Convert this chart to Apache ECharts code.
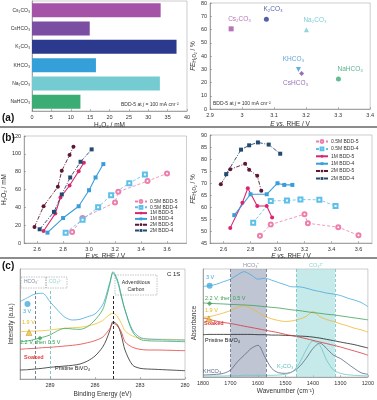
<!DOCTYPE html>
<html>
<head>
<meta charset="utf-8">
<script src="https://cdn.jsdelivr.net/npm/echarts@6/dist/echarts.min.js"></script>
<style>
  html, body { margin: 0; padding: 0; background: #fff; }
  #chart { width: 377px; height: 400px; }
</style>
</head>
<body>
<div id="chart"></div>
<script>
///////////////////////////////////////////////////
// Used data
///////////////////////////////////////////////////
var FONT = '"Liberation Sans", Arial, sans-serif';

// (a) electrolytes, BDD-5 at 100 mA cm-2
var salts = ['Cs₂CO₃', 'CsHCO₃', 'K₂CO₃', 'KHCO₃', 'Na₂CO₃', 'NaHCO₃'];
var saltColors = ['#a553a6', '#7b4ea3', '#2c3a8e', '#359fd9', '#74cbd2', '#3bac74'];
var saltLabelColors = ['#a553a6', '#7b4ea3', '#2c3a8e', '#3a8fc7', '#5dbfc8', '#2fa070'];
var saltSymbols = ['rect', 'diamond', 'circle', 'triangle', 'triangle', 'circle'];
var h2o2Salt = [33.2, 14.9, 37.3, 16.5, 33.0, 12.5];
var eSalt = [2.966, 3.186, 3.076, 3.176, 3.201, 3.301];
var feSalt = [60.5, 26.8, 67.8, 29.8, 59.8, 22.6];

// (b) concentration series
var bNames = ['0.5M BDD-5', '0.5M BDD-4', '1M BDD-5', '1M BDD-4', '2M BDD-5', '2M BDD-4'];
var e05M5 = [2.87, 2.95, 3.20, 3.225, 3.45, 3.60];
var e05M4 = [2.82, 2.95, 3.07, 3.17, 3.31, 3.43];
var e1M5 = [2.65, 2.74, 2.78, 2.85, 2.92, 2.96];
var e1M4 = [2.68, 2.80, 2.92, 3.00, 3.05, 3.11];
var e2M5 = [2.58, 2.65, 2.76, 2.79, 2.85, 2.88];
var e2M4 = [2.62, 2.73, 2.79, 2.855, 2.935, 3.02];
var h05M5 = [12.4, 28, 45.4, 57.4, 69.4, 78];
var h05M4 = [11.6, 26.2, 40.1, 53.6, 67.1, 76.9];
var h1M5 = [13.5, 33, 51, 64.5, 80.5, 90];
var h1M4 = [11.6, 28, 41.2, 59.2, 73.5, 88.5];
var h2M5 = [18, 41.2, 63, 81, 98.6, 108];
var h2M4 = [15.4, 34.9, 54.4, 73.5, 91.1, 105];
var fe05M5 = [48, 52.7, 57, 53.2, 51.6, 48.2];
var fe05M4 = [53.4, 62.5, 62.7, 63.1, 63, 60.4];
var fe1M5 = [51.3, 61.8, 67.8, 60.4, 60.4, 55.6];
var fe1M4 = [56.6, 65.3, 65.3, 69.9, 69.2, 69.2];
var fe2M5 = [69.5, 75.7, 78, 75.5, 73, 66.8];
var fe2M4 = [73.7, 83.9, 85.7, 86.9, 86, 82.2];
var bTicks = [2.6, 2.8, 3.0, 3.2, 3.4, 3.6];

// (c) XPS C 1s, offset curves (a.u.)
var xpsE = [291, 290.5, 290, 289.5, 289, 288.5, 288, 287.5, 287, 286.5, 286, 285.5, 285.25, 285, 284.8, 284.5, 284.25, 284, 283.5, 283, 282.5, 282, 281, 280];
var xps3V = [80.3, 84.3, 88, 88.7, 80.3, 72, 64.7, 62, 62.7, 65.3, 68, 77, 87, 100.3, 108.7, 100.3, 85.3, 72, 52, 44.7, 43, 42.7, 42, 42];
var xps22V = [40.3, 41, 42.7, 44.7, 47, 51.3, 53.7, 53, 52.7, 55.3, 62, 72, 83.7, 98.7, 110.3, 102, 87, 72, 50.3, 42.7, 41.3, 41, 40.7, 40.3];
var xps19V = [50.3, 50.7, 51, 51.3, 52, 53, 53.7, 54.3, 54.7, 56, 58, 61.3, 64.7, 67.7, 68.7, 65.3, 58.7, 51.3, 46, 43.7, 43, 42.7, 42.7, 42];
var xpsSoaked = [32.7, 33.3, 33.7, 34.3, 34.7, 35.3, 36, 36.7, 37.7, 39.3, 41.3, 44.7, 48.7, 53.7, 58.7, 56, 50.3, 40.3, 34.7, 32.7, 32, 32, 31.7, 31.3];
var xpsPristine = [12, 12.3, 13, 13.7, 14.7, 15.3, 16, 16.7, 18, 21, 26, 34.7, 42, 52, 60.3, 57, 47, 32, 17, 13.7, 13, 12.7, 12, 11.3];

// (c) FTIR, offset curves (a.u.)
var irW = [1800, 1775, 1750, 1725, 1700, 1675, 1650, 1625, 1600, 1575, 1550, 1525, 1500, 1475, 1450, 1425, 1400, 1375, 1350, 1325, 1300, 1275, 1250, 1225, 1200];
var ir3V = [96.3, 97.3, 98.7, 101.3, 103.7, 108, 111.3, 108, 103.7, 104.7, 102.7, 100.3, 98, 96, 96, 94.7, 92.7, 91.3, 89.7, 88.7, 87.3, 84.7, 82.7, 80.3, 76];
var ir22V = [79.7, 79.3, 79, 78.7, 78.3, 78, 77.7, 77.3, 76.7, 76, 75.3, 74.7, 73.7, 72.7, 72, 71, 70, 69.3, 68.3, 67.7, 66.7, 65.7, 64.7, 63.7, 62.7];
var ir19V = [65.3, 66, 67.7, 69.7, 72, 75.3, 77, 74.3, 70.3, 66.3, 63.7, 62, 61, 61.7, 63.3, 66, 71, 66, 63, 61, 58.7, 56.7, 54.3, 52.7, 50.3];
var irSoaked = [64.7, 63, 61.3, 60, 59, 57.7, 56.3, 55, 53.7, 52.3, 51, 49.7, 48, 46.7, 45.3, 43.7, 42, 40.3, 38.7, 37, 35.3, 33.3, 31.3, 29.3, 27];
var irPristine = [47.7, 48, 48, 48, 48, 48, 48, 48, 47.7, 47.7, 47.3, 47.3, 47, 46.7, 46.3, 46, 45.3, 44.3, 43, 41.7, 40.3, 39, 37.7, 36, 34.3];
var irKHCO3 = [7, 7.3, 7.7, 8.7, 12, 20.3, 27, 33.7, 37, 25.3, 13.7, 9.3, 8.7, 10.3, 15.3, 23.7, 33.7, 39.3, 33.7, 27, 23.7, 18.7, 13.7, 9.3, 7.7];
var irK2CO3 = [6, 6, 6, 6, 6.3, 6.3, 6.7, 6.7, 6.7, 6.7, 6.7, 7, 7.7, 10.3, 18.7, 32, 41.3, 37, 22, 12, 8.7, 7.3, 6.7, 6.3, 6];

///////////////////////////////////////////////////
// Helpers
///////////////////////////////////////////////////
function zip(xs, ys) {
  return xs.map(function (x, i) { return [x, ys[i]]; });
}

function valAxis(grid, o) {
  var ax = {
    type: 'value', gridIndex: grid,
    axisLine: { show: true, onZero: false, lineStyle: { color: '#777', width: 0.6 } },
    axisTick: { show: true, inside: true, length: 2, lineStyle: { color: '#777', width: 0.5 } },
    axisLabel: { fontSize: 5.5, color: '#333', margin: 3, fontFamily: FONT },
    splitLine: { show: false },
    nameLocation: 'middle',
    nameTextStyle: { fontSize: 6.5, color: '#333', fontFamily: FONT },
  };
  for (var k in o) {
    if (typeof o[k] === 'object' && !Array.isArray(o[k]) && ax[k]) {
      ax[k] = Object.assign({}, ax[k], o[k]);
    } else {
      ax[k] = o[k];
    }
  }
  return ax;
}

function T(x, y, text, color, size, extra) {
  return {
    type: 'text', x: x, y: y, silent: true, z: 100,
    style: Object.assign({ text: text, fill: color || '#333', fontSize: size || 5.5, fontFamily: FONT }, extra || {}),
  };
}

function box(x, y, w, h) {
  return {
    type: 'rect', silent: true, z: 90, shape: { x: x, y: y, width: w, height: h },
    style: { fill: 'none', stroke: '#888', lineWidth: 0.5, lineDash: [1.5, 1] },
  };
}

var frame = { show: true, borderColor: '#9a9a9a', borderWidth: 0.5 };
var eName = '{i|E vs.} RHE / V';
var eRich = { i: { fontStyle: 'italic', fontSize: 6.5, fontFamily: FONT } };
var feName = '{i|FE}{s|H₂O₂} / %';
var feRich = {
  i: { fontStyle: 'italic', fontSize: 6.5, fontFamily: FONT },
  s: { fontSize: 4.5, fontFamily: FONT, verticalAlign: 'bottom', padding: [2, 0, 0, 0] },
};
var plain = function (v) { return String(v); };

///////////////////////////////////////////////////
// Series
///////////////////////////////////////////////////
var series = [];

// (a) left bars
series.push({
  type: 'bar', xAxisIndex: 0, yAxisIndex: 0, barWidth: 14,
  data: h2o2Salt.map(function (v, i) { return { value: v, itemStyle: { color: saltColors[i] } }; }),
});

// (a) right scatter
var labelPos = [
  { position: 'top', align: 'left', offset: [-3, 1] },
  { position: 'bottom', offset: [-6, -1] },
  { position: 'top', align: 'left', offset: [-3, 1] },
  { position: 'top', offset: [-5, 1] },
  { position: 'top', align: 'left', offset: [-3, 1] },
  { position: 'top', align: 'left', offset: [-1, 1] },
];
series.push({
  type: 'scatter', xAxisIndex: 1, yAxisIndex: 1, symbolSize: 5,
  data: salts.map(function (s, i) {
    return {
      value: [eSalt[i], feSalt[i]], symbol: saltSymbols[i],
      symbolRotate: i === 3 ? 180 : 0,
      itemStyle: { color: saltColors[i] },
      label: Object.assign({ show: true, formatter: s, color: saltLabelColors[i], fontSize: 6.5, fontFamily: FONT }, labelPos[i]),
    };
  }),
});

// (b) lines
var bColors = ['#ec7fab', '#5cc0ea', '#d9266f', '#3a9ddb', '#5e1635', '#244a70'];
var bSymbols = ['emptyCircle', 'emptyRect', 'circle', 'rect', 'circle', 'rect'];
var dashDot = [4, 1.5, 1, 1.5];
var bTypes = [[3, 2], [3, 2], 'solid', 'solid', dashDot, dashDot];
var bWidths = [0.8, 0.8, 1.1, 1.1, 0.9, 0.9];
var bE = [e05M5, e05M4, e1M5, e1M4, e2M5, e2M4];
var bH = [h05M5, h05M4, h1M5, h1M4, h2M5, h2M4];
var bFE = [fe05M5, fe05M4, fe1M5, fe1M4, fe2M5, fe2M4];
[0, 1].forEach(function (panel) {
  bNames.forEach(function (name, i) {
    series.push({
      name: name, type: 'line', xAxisIndex: 2 + panel, yAxisIndex: 2 + panel,
      data: zip(bE[i], panel === 0 ? bH[i] : bFE[i]),
      symbol: bSymbols[i], symbolSize: 4, showAllSymbol: true,
      itemStyle: { color: bColors[i], borderWidth: 0.8 },
      lineStyle: { color: bColors[i], width: bWidths[i], type: bTypes[i] },
      z: i < 2 ? 2 : 3,
    });
  });
});

// (c) XPS
var specColors = { v3: '#45aae0', v22: '#3aa95c', v19: '#f3bf2c', soaked: '#e6403c', pristine: '#2b2b2b' };
function spec(x, y, xi, color, extra) {
  return Object.assign({
    type: 'line', xAxisIndex: xi, yAxisIndex: xi, data: zip(x, y), showSymbol: false,
    smooth: 0.3, lineStyle: { color: color, width: 0.8 }, itemStyle: { color: color }, z: 3,
  }, extra || {});
}
series.push(spec(xpsE, xpsPristine, 4, specColors.pristine, {
  markLine: {
    silent: true, symbol: 'none', label: { show: false },
    data: [
      [{ coord: [290, 3], lineStyle: { color: '#4d6482', type: [3, 2], width: 0.8 } }, { coord: [290, 93] }],
      [{ coord: [289, 3], lineStyle: { color: '#5fb9bb', type: [3, 2], width: 0.8 } }, { coord: [289, 93] }],
      [{ coord: [284.8, 3], lineStyle: { color: '#111', type: [3, 2], width: 0.9 } }, { coord: [284.8, 87] }],
    ],
  },
}));
series.push(spec(xpsE, xpsSoaked, 4, specColors.soaked));
series.push(spec(xpsE, xps19V, 4, specColors.v19));
series.push(spec(xpsE, xps3V, 4, specColors.v3));
series.push(spec(xpsE, xps22V, 4, specColors.v22));
series.push({
  type: 'scatter', xAxisIndex: 4, yAxisIndex: 4, z: 5,
  data: [
    { value: [290.5, 78], symbol: 'circle', symbolSize: 6, itemStyle: { color: specColors.v3 } },
    { value: [290.4, 49.5], symbol: 'triangle', symbolSize: 6, itemStyle: { color: specColors.v19, borderColor: '#8a6a10', borderWidth: 0.4 } },
    { value: [289.67, 43.7], symbol: 'diamond', symbolSize: 5, itemStyle: { color: specColors.v22 } },
  ],
});

// (c) FTIR
series.push({
  type: 'line', xAxisIndex: 5, yAxisIndex: 5, data: [[1800, 5]], showSymbol: false,
  lineStyle: { opacity: 0 }, z: 1,
  markArea: {
    silent: true,
    data: [
      [{ xAxis: 1700, itemStyle: { color: 'rgba(150,158,182,0.6)' } }, { xAxis: 1570 }],
      [{ xAxis: 1460, itemStyle: { color: 'rgba(160,218,218,0.6)' } }, { xAxis: 1320 }],
    ],
  },
  markLine: {
    silent: true, symbol: 'none', label: { show: false },
    data: [
      { xAxis: 1700, lineStyle: { color: '#4d5d7c', type: [3, 2], width: 0.7 } },
      { xAxis: 1570, lineStyle: { color: '#4d5d7c', type: [3, 2], width: 0.7 } },
      { xAxis: 1460, lineStyle: { color: '#5fb9bb', type: [3, 2], width: 0.7 } },
      { xAxis: 1320, lineStyle: { color: '#5fb9bb', type: [3, 2], width: 0.7 } },
    ],
  },
});
series.push(spec(irW, irKHCO3, 5, '#5a6886'));
series.push(spec(irW, irK2CO3, 5, '#6cc6c6'));
series.push(spec(irW, irPristine, 5, '#222'));
series.push(spec(irW, irSoaked, 5, '#d9353a'));
series.push(spec(irW, ir19V, 5, '#f0b82e'));
series.push(spec(irW, ir22V, 5, '#3f9f55'));
series.push(spec(irW, ir3V, 5, specColors.v3));
series.push({
  type: 'scatter', xAxisIndex: 5, yAxisIndex: 5, z: 5,
  data: [
    { value: [1776, 97], symbol: 'circle', symbolSize: 6, itemStyle: { color: specColors.v3 } },
    { value: [1776, 79.3], symbol: 'diamond', symbolSize: 5, itemStyle: { color: '#3f9f55' } },
    { value: [1779, 63.7], symbol: 'triangle', symbolSize: 6, itemStyle: { color: '#f0b82e', borderColor: '#8a6a10', borderWidth: 0.4 } },
  ],
});

///////////////////////////////////////////////////
// Chart
///////////////////////////////////////////////////
var legendBase = {
  data: bNames, orient: 'vertical', padding: 0, selectedMode: false,
  itemWidth: 12, itemHeight: 3.5,
  textStyle: { fontSize: 5, color: '#333', fontFamily: FONT, padding: [0, 0, 0, -2] },
};

var option = {
  animation: false,
  backgroundColor: '#fff',
  textStyle: { fontFamily: FONT },
  grid: [
    Object.assign({ left: 32, top: 1, width: 155, height: 110 }, frame),
    Object.assign({ left: 210, top: 2, width: 163, height: 107 }, frame),
    Object.assign({ left: 24, top: 136, width: 162.5, height: 107 }, frame),
    Object.assign({ left: 210, top: 135, width: 162, height: 108 }, frame),
    Object.assign({ left: 20, top: 269, width: 165, height: 110 }, frame),
    Object.assign({ left: 203, top: 269, width: 167, height: 108 }, frame),
  ],
  xAxis: [
    valAxis(0, { min: 0, max: 40, interval: 5, name: 'H₂O₂ / mM', nameGap: 11 }),
    valAxis(1, { min: 2.9, max: 3.4, interval: 0.1, name: eName, nameGap: 12, nameTextStyle: { rich: eRich } }),
    valAxis(2, {
      min: 2.5, max: 3.75, name: eName, nameGap: 10, nameTextStyle: { rich: eRich },
      axisLabel: { customValues: bTicks, formatter: function (v) { return v.toFixed(1); } },
      axisTick: { customValues: bTicks },
    }),
    valAxis(3, {
      min: 2.5, max: 3.7, name: eName, nameGap: 10, nameTextStyle: { rich: eRich },
      axisLabel: { customValues: bTicks, formatter: function (v) { return v.toFixed(1); } },
      axisTick: { customValues: bTicks },
    }),
    valAxis(4, { min: 280, max: 291, interval: 3, inverse: true, name: 'Binding Energy (eV)', nameGap: 12,
      axisLabel: { showMaxLabel: false, formatter: plain } }),
    valAxis(5, { min: 1200, max: 1800, interval: 100, inverse: true, name: 'Wavenumber (cm⁻¹)', nameGap: 11,
      axisLabel: { showMinLabel: true, showMaxLabel: true, formatter: plain } }),
  ],
  yAxis: [
    {
      type: 'category', gridIndex: 0, data: salts, inverse: true,
      axisLine: { show: true, lineStyle: { color: '#777', width: 0.6 } },
      axisTick: { show: false },
      axisLabel: { fontSize: 5, color: '#333', margin: 2, fontFamily: FONT },
    },
    valAxis(1, { min: 0, max: 80, interval: 10, name: feName, nameGap: 12, nameTextStyle: { rich: feRich } }),
    valAxis(2, { min: 0, max: 120, interval: 20, name: 'H₂O₂ / mM', nameGap: 13 }),
    valAxis(3, { min: 45, max: 90, interval: 5, name: feName, nameGap: 12, nameTextStyle: { rich: feRich } }),
    valAxis(4, { min: 3, max: 113, name: 'Intensity (a.u.)', nameGap: 5, axisLabel: { show: false }, axisTick: { show: false } }),
    valAxis(5, { min: 5, max: 114, name: 'Absorbance', nameGap: 5, axisLabel: { show: false }, axisTick: { show: false } }),
  ],
  legend: [
    Object.assign({ left: 134, top: 199, itemGap: 0.8 }, legendBase),
    Object.assign({ left: 315, top: 139, itemGap: 2.4 }, legendBase),
  ],
  series: series,
  graphic: [
    { type: 'rect', silent: true, shape: { x: 0, y: 126, width: 377, height: 2 }, style: { fill: '#8c8c8c' } },
    { type: 'rect', silent: true, shape: { x: 0, y: 257, width: 377, height: 2 }, style: { fill: '#8c8c8c' } },
    T(2, 113, '(a)', '#111', 10, { fontWeight: 'bold' }),
    T(2, 133, '(b)', '#111', 10, { fontWeight: 'bold' }),
    T(2, 261, '(c)', '#111', 10, { fontWeight: 'bold' }),
    T(121, 102, 'BDD-5 at {i|j} = 100 mA cm⁻²', '#333', 5, { rich: { i: { fontStyle: 'italic', fontSize: 5, fontFamily: FONT } } }),
    T(213, 101, 'BDD-5 at {i|j} = 100 mA cm⁻²', '#333', 5, { rich: { i: { fontStyle: 'italic', fontSize: 5, fontFamily: FONT } } }),
    // XPS annotations
    T(167, 271, 'C 1S', '#222', 6),
    box(115, 275, 42, 20),
    T(136, 279, 'Adventitious\nCarbon', '#333', 5.2, { align: 'center', lineHeight: 7 }),
    box(21, 277, 25, 11),
    box(46, 277, 21, 11),
    T(24, 279.5, 'HCO₃⁻', '#7d8aa0', 5),
    T(49, 279.5, 'CO₃²⁻', '#8fcfcf', 5),
    T(23, 308, '3 V', '#3ea6df', 5.5),
    T(22, 319.5, '1.9 V', '#e9b51f', 5.5),
    T(20, 339, '2.2 V, then 0.5 V', '#2f9e52', 5.5),
    T(24, 354.5, 'Soaked', '#e23a36', 5.5, { fontWeight: 'bold' }),
    T(55, 365.5, 'Pristine BiVO₄', '#222', 5.5),
    // FTIR annotations
    T(243, 262, 'HCO₃⁻', '#8a94aa', 5.5),
    T(309, 262, 'CO₃²⁻', '#8fd0d0', 5.5),
    T(206, 274, '3 V', '#3ea6df', 5.5),
    T(205, 295, '2.2 V, then 0.5 V', '#3f9f55', 5.5),
    T(205, 307.5, '1.9 V', '#e9b51f', 5.5),
    T(204, 320, 'Soaked', '#d9353a', 5.5, { fontWeight: 'bold' }),
    T(205, 337.5, 'Pristine BiVO₄', '#222', 5.5),
    T(203, 368.5, 'KHCO₃', '#5a6886', 5.5),
    T(277, 363.5, 'K₂CO₃', '#5fbcbc', 5.5),
  ],
};

var myChart = echarts.init(document.getElementById('chart'), null, { renderer: 'canvas' });
myChart.setOption(option);
</script>
</body>
</html>
